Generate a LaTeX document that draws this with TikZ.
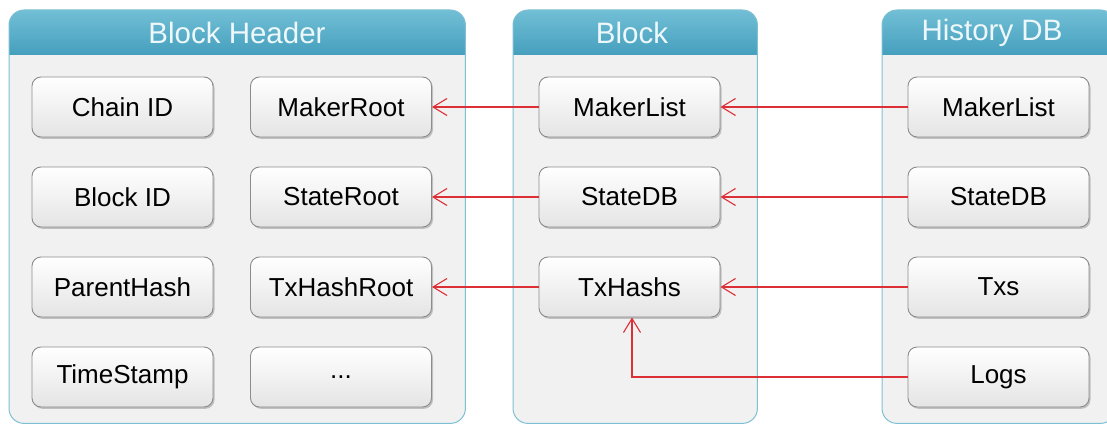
\documentclass[tikz,border=0pt]{standalone}
\usepackage{fontspec}
\setmainfont{Liberation Sans}
\usetikzlibrary{arrows.meta,shadows}
\definecolor{bodygrey}{HTML}{F1F1F1}
\definecolor{contborder}{HTML}{7DBFD3}
\definecolor{hdtop}{HTML}{72BFD6}
\definecolor{hdbot}{HTML}{459FBD}
\definecolor{hdtext}{HTML}{EEF8FB}
\definecolor{arrred}{HTML}{DD3036}
\definecolor{boxborder}{HTML}{8C8C8C}
\definecolor{boxbot}{HTML}{E4E4E4}
\begin{document}
\begin{tikzpicture}[x=1pt,y=1pt,
  container/.style={rectangle, rounded corners=15, fill=bodygrey, draw=none, inner sep=0pt, anchor=north west},
  cborder/.style={rounded corners=15, draw=contborder, line width=1pt},
  hdlabel/.style={text=hdtext, font=\fontsize{29.5}{33}\selectfont, inner sep=0pt},
  item/.style={rectangle, rounded corners=9, draw=boxborder, line width=0.9pt,
    top color=white, bottom color=boxbot, minimum width=181, minimum height=60, inner sep=0pt,
    font=\fontsize{26}{30}\selectfont,
    drop shadow={shadow xshift=1.5pt, shadow yshift=-1.8pt, opacity=0.35, fill=black!60}},
  arr/.style={draw=arrred, line width=1.1pt, -{Straight Barb[length=14pt,width=17pt,line width=1.1pt]}}
]
\useasboundingbox (0,0) rectangle (1107,424);

% containers
\node[container, minimum width=456, minimum height=413] (bh) at (9,414) {};
\node[container, minimum width=244, minimum height=413] (bl) at (513,414) {};
\node[container, minimum width=233, minimum height=413] (hd) at (882,414) {};

\foreach \c in {bh,bl,hd}{
  \begin{scope}
    \clip[rounded corners=15] (\c.south west) rectangle (\c.north east);
    \shade[top color=hdtop, bottom color=hdbot] (\c.north west) rectangle ([yshift=-45]\c.north east);
  \end{scope}
  \draw[cborder] (\c.south west) rectangle (\c.north east);
}

\node[hdlabel] (bhT) at (237,391.5) {Block Header};
\node[hdlabel] (blT) at (632,391.5) {Block};
\node[hdlabel] (hdT) at (992,391.5) {History DB};

% Block Header items
\node[item] (chain) at (122.5,317) {Chain ID};
\node[item] (bid)   at (122.5,227) {Block ID};
\node[item] (par)   at (122.5,137) {ParentHash};
\node[item] (ts)    at (122.5,47)  {TimeStamp};
\node[item] (mroot) at (341,317) {MakerRoot};
\node[item] (sroot) at (341,227) {StateRoot};
\node[item] (troot) at (341,137) {TxHashRoot};
\node[item] (dots)  at (341,47)  {...};

% Block items
\node[item] (bml) at (629.5,317) {MakerList};
\node[item] (bsd) at (629.5,227) {StateDB};
\node[item] (btx) at (629.5,137) {TxHashs};

% History DB items
\node[item] (hml)  at (998.5,317) {MakerList};
\node[item] (hsd)  at (998.5,227) {StateDB};
\node[item] (htx)  at (998.5,137) {Txs};
\node[item] (hlog) at (998.5,47)  {Logs};

% connectors
\draw[arr] (bml.west) -- (mroot.east);
\draw[arr] (bsd.west) -- (sroot.east);
\draw[arr] (btx.west) -- (troot.east);
\draw[arr] (hml.west) -- (bml.east);
\draw[arr] (hsd.west) -- (bsd.east);
\draw[arr] (htx.west) -- (btx.east);
\draw[arr] (hlog.west) -| ([xshift=2.5]btx.south);
\end{tikzpicture}
\end{document}
